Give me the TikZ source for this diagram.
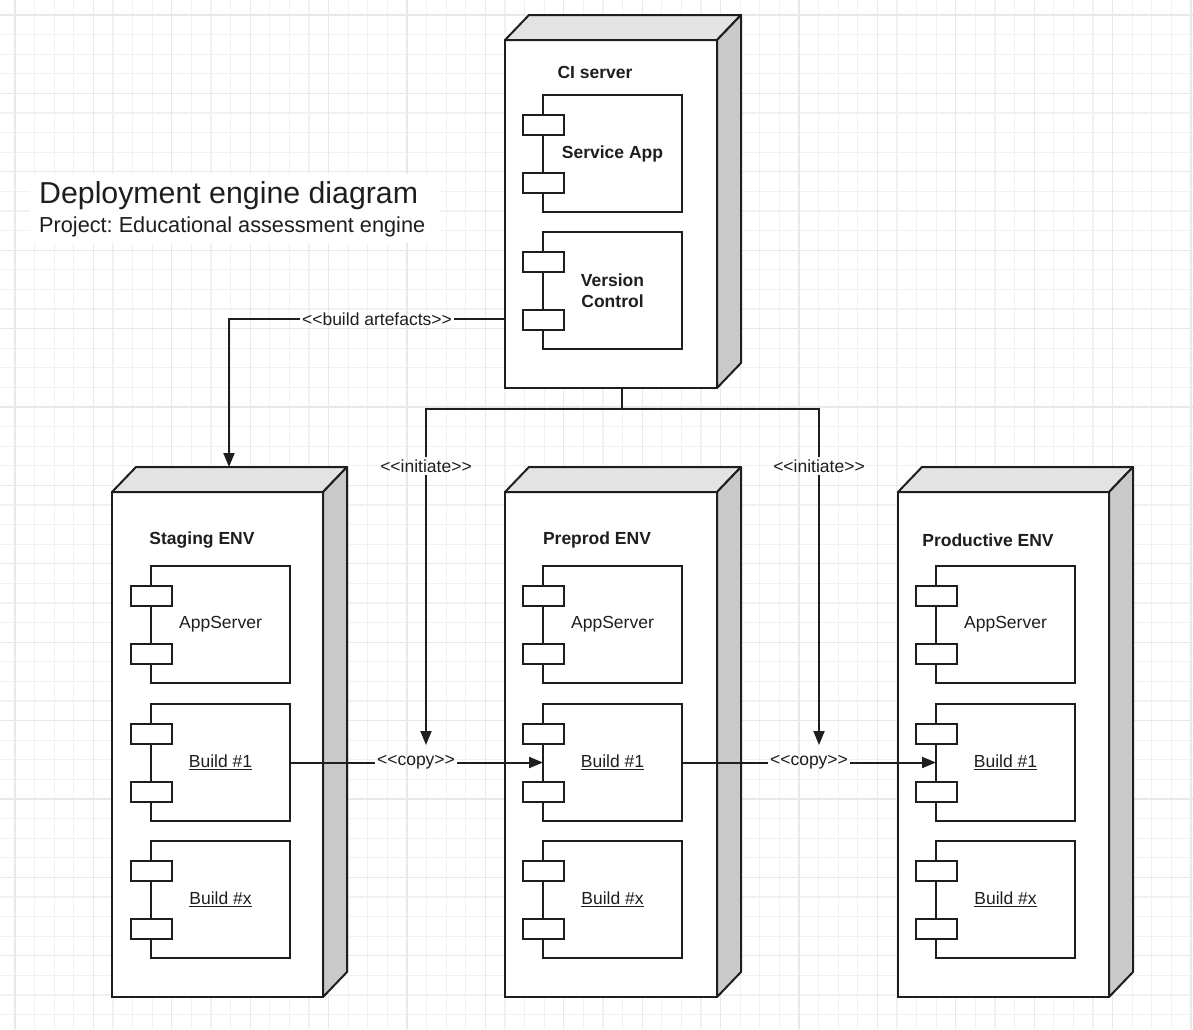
\documentclass[tikz,border=0pt]{standalone}
\usepackage{fontspec}
\setmainfont{Liberation Sans}
\frenchspacing
\usetikzlibrary{arrows.meta,calc}
\definecolor{gridminor}{HTML}{F1F1F1}
\definecolor{gridmajor}{HTML}{E8E8E8}
\definecolor{topgray}{HTML}{E3E3E3}
\definecolor{sidegray}{HTML}{C9C9C9}
\definecolor{ink}{HTML}{1E1E1E}
\newcommand\lblfont{\fontsize{17.5}{21}\selectfont}
\tikzset{
  nodefront/.style={draw=ink, line width=2pt, fill=white, anchor=north west, inner sep=0pt, outer sep=0pt},
  compbox/.style={draw=ink, line width=2pt, fill=white, anchor=north west, minimum width=139pt, minimum height=117pt, inner sep=0pt, outer sep=0pt, font=\lblfont, text=ink, align=center},
  portbox/.style={draw=ink, line width=2pt, fill=white, minimum width=41pt, minimum height=20pt, inner sep=0pt, outer sep=0pt},
  envlabel/.style={font=\lblfont\bfseries, text=ink},
  conn/.style={draw=ink, line width=2pt},
  arr/.style={-{Triangle[length=14pt,width=11pt]}},
  connlabel/.style={font=\lblfont, text=ink, inner sep=2pt},
  face/.style={draw=ink, line width=2pt, line join=round},
}
\newcommand\depthfaces[1]{%
  \filldraw[face, fill=topgray] (#1.north west) -- ++(24,-25) -- ($(#1.north east)+(24,-25)$) -- (#1.north east) -- cycle;
  \filldraw[face, fill=sidegray] (#1.north east) -- ($(#1.north east)+(24,-25)$) -- ($(#1.south east)+(24,-25)$) -- (#1.south east) -- cycle;
}
\newcommand\comp[5]{%
  \node[compbox, #4] (#1) at (#2,#3) {#5};
  \node[portbox, anchor=north west] (#1a) at ($(#1.north west)+(-20,20)$) {};
  \node[portbox, anchor=south west] (#1b) at ($(#1.south west)+(-20,-19)$) {};
}
\begin{document}
\begin{tikzpicture}[x=1pt,y=-1pt]
\useasboundingbox (0,0) rectangle (1193,1029);
\fill[white] (0,0) rectangle (1193,1029);
% grid
\foreach \i in {0,...,60} {\draw[gridminor, line width=1.2pt] ({15+19.6*\i},0) -- ({15+19.6*\i},1029);}
\foreach \i in {0,...,51} {\draw[gridminor, line width=1.2pt] (0,{15+19.6*\i}) -- (1193,{15+19.6*\i});}
\foreach \i in {0,...,15} {\draw[gridmajor, line width=1.2pt] ({15+78.4*\i},0) -- ({15+78.4*\i},1029);}
\foreach \i in {0,...,12} {\draw[gridmajor, line width=1.2pt] (0,{15+78.4*\i}) -- (1193,{15+78.4*\i});}

% title
\fill[white] (30,174) rectangle (440,243);
\node[anchor=base west, inner sep=0pt, text=ink, font=\fontsize{30.3}{34}\selectfont] (title) at (39,203) {Deployment engine diagram};
\node[anchor=base west, inner sep=0pt, text=ink, font=\fontsize{21.7}{25}\selectfont] (subtitle) at (39,232) {Project: Educational assessment engine};

% CI server
\node[nodefront, minimum width=212pt, minimum height=348pt] (ci) at (505,40) {};
\depthfaces{ci}
\node[envlabel] (ciL) at (595,72) {CI server};
\comp{sa}{543}{95}{font=\lblfont\bfseries}{Service App}
\comp{vc}{543}{232}{font=\lblfont\bfseries}{Version\\Control}

% Staging
\node[nodefront, minimum width=211pt, minimum height=505pt] (stag) at (112,492) {};
\depthfaces{stag}
\node[envlabel] (stagL) at (202,540) {Staging ENV};
\comp{stA}{151}{566}{}{AppServer}
\comp{stB}{151}{704}{}{\underline{Build \#1}}
\comp{stX}{151}{841}{}{\underline{Build \#x}}

% Preprod
\node[nodefront, minimum width=212pt, minimum height=505pt] (pre) at (505,492) {};
\depthfaces{pre}
\node[envlabel] (preL) at (597,540) {Preprod ENV};
\comp{prA}{543}{566}{}{AppServer}
\comp{prB}{543}{704}{}{\underline{Build \#1}}
\comp{prX}{543}{841}{}{\underline{Build \#x}}

% Productive
\node[nodefront, minimum width=211pt, minimum height=505pt] (prod) at (898,492) {};
\depthfaces{prod}
\node[envlabel] (prodL) at (988,540) {Productive ENV};
\comp{pdA}{936}{566}{}{AppServer}
\comp{pdB}{936}{704}{}{\underline{Build \#1}}
\comp{pdX}{936}{841}{}{\underline{Build \#x}}

% build artefacts
\node[connlabel] (ba) at (377,319) {<{}<build artefacts>{}>};
\coordinate (baTip) at (229,467);
\draw[conn] (ci.west |- ba.east) -- (ba.east);
\draw[conn, arr] (ba.west) -| (baTip);

% initiate
\coordinate (ciOut) at (622,388);
\coordinate (jn) at (622,409);
\node[connlabel] (in1) at (426,466) {<{}<initiate>{}>};
\node[connlabel] (in2) at (819,466) {<{}<initiate>{}>};
\coordinate (t1) at (426,745);
\coordinate (t2) at (819,745);
\draw[conn] (ciOut) -- (jn);
\draw[conn, line join=miter] (in1.north) |- (jn) -| (in2.north);
\draw[conn, arr] (in1.south) -- (t1);
\draw[conn, arr] (in2.south) -- (t2);

% copy
\node[connlabel] (cp1) at (416,762.5) {<{}<copy>{}>};
\node[connlabel] (cp2) at (809,762.5) {<{}<copy>{}>};
\draw[conn] (stB.east) -- (cp1.west);
\draw[conn, arr] (cp1.east) -- (prB.west);
\draw[conn] (prB.east) -- (cp2.west);
\draw[conn, arr] (cp2.east) -- (pdB.west);
\end{tikzpicture}
\end{document}
